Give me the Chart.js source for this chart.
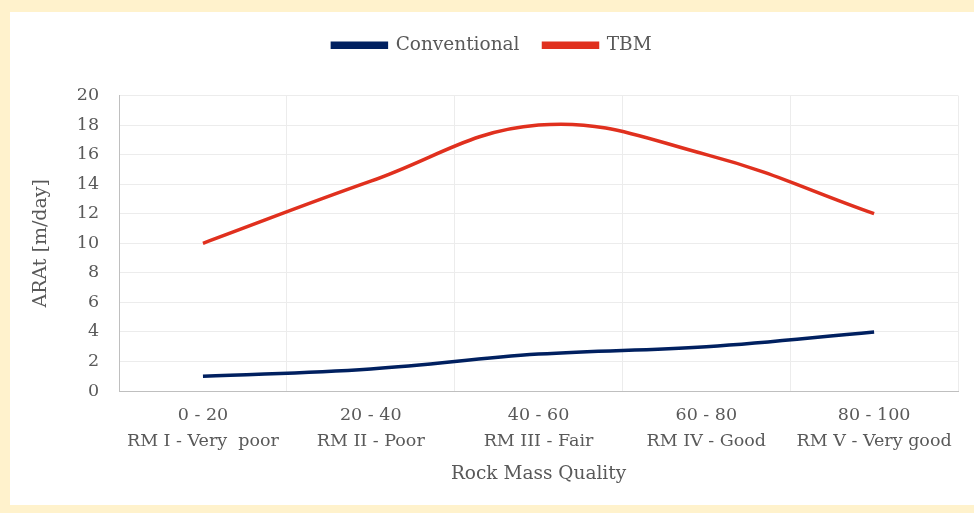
<!DOCTYPE html>
<html>
<head>
<meta charset="utf-8">
<script src="https://cdn.jsdelivr.net/npm/chart.js@4"></script>
<style>
  html, body { margin: 0; padding: 0; background: #fff2cc; }
  #wrap { position: absolute; left: 10px; top: 12px; width: 964px; height: 493px; background: #ffffff; }
</style>
</head>
<body>
<div id="wrap"><canvas id="chart" width="964" height="493"></canvas></div>
<script>
const categorias = [
  ['0 - 20', 'RM I - Very  poor'],
  ['20 - 40', 'RM II - Poor'],
  ['40 - 60', 'RM III - Fair'],
  ['60 - 80', 'RM IV - Good'],
  ['80 - 100', 'RM V - Very good']
];
const conventional = [1, 1.5, 2.5, 3, 4];
const tbm = [10, 14.2, 18, 16, 12];

const fuente = '"DejaVu Serif", Georgia, serif';
const gris = '#595959';

// deja más aire debajo de la leyenda
const espacioLeyenda = {
  id: 'espacioLeyenda',
  beforeInit(chart) {
    const fitOriginal = chart.legend.fit;
    chart.legend.fit = function () {
      fitOriginal.bind(chart.legend)();
      this.height += 31;
    };
  }
};

const ctx = document.getElementById('chart').getContext('2d');
new Chart(ctx, {
  type: 'line',
  data: {
    labels: categorias,
    datasets: [
      { label: 'Conventional', data: conventional, borderColor: '#002060', backgroundColor: '#002060', borderWidth: 3.5, tension: 0.4, pointRadius: 0 },
      { label: 'TBM', data: tbm, borderColor: '#e0301e', backgroundColor: '#e0301e', borderWidth: 3.5, tension: 0.4, pointRadius: 0 }
    ]
  },
  options: {
    responsive: false,
    animation: false,
    layout: { padding: { left: 16, right: 16, top: 0, bottom: 19 } },
    plugins: {
      legend: {
        position: 'top',
        labels: { color: gris, font: { family: fuente, size: 18.5 }, boxWidth: 54, boxHeight: 4, padding: 24 }
      },
      tooltip: { enabled: false }
    },
    scales: {
      x: {
        offset: true,
        grid: { color: '#ececec', offset: true, drawTicks: false },
        border: { color: '#bfbfbf' },
        ticks: { color: gris, font: { family: fuente, size: 17.5, lineHeight: 1.45 }, padding: 12, maxRotation: 0, autoSkip: false },
        title: { display: true, text: 'Rock Mass Quality', color: gris, font: { family: fuente, size: 18.5 }, padding: { top: -3, bottom: 1 } }
      },
      y: {
        min: 0, max: 20,
        grid: { color: '#ececec', drawTicks: false },
        border: { color: '#bfbfbf' },
        ticks: { stepSize: 2, color: gris, font: { family: fuente, size: 17.5 }, padding: 20 },
        title: { display: true, text: 'ARAt [m/day]', color: gris, font: { family: fuente, size: 19 }, padding: { bottom: 4 } }
      }
    }
  },
  plugins: [espacioLeyenda]
});
</script>
</body>
</html>
